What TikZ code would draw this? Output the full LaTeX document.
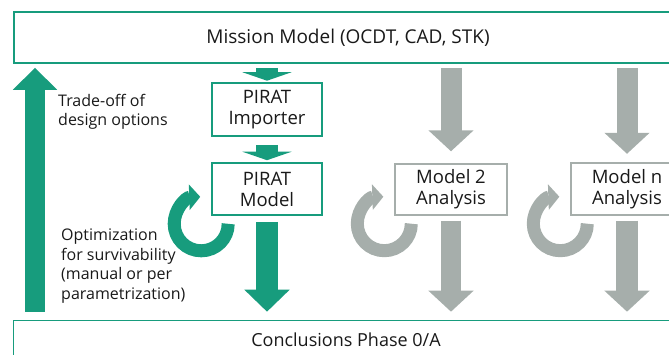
\documentclass[tikz,border=0pt]{standalone}
\usepackage{fontspec}
\setmainfont{Open Sans}
\usetikzlibrary{arrows.meta}
\definecolor{fhgreen}{RGB}{23,156,125}
\definecolor{fhgrey}{RGB}{166,174,171}
\definecolor{txt}{RGB}{25,25,25}
\begin{document}
\begin{tikzpicture}[
            x=1pt, y=1pt,
            every node/.style={align=center, inner sep=0pt, text=txt},
            box/.style={draw=fhgreen, line width=1.6pt, font=\fontsize{18.5pt}{21pt}\selectfont},
            greybox/.style={draw=fhgrey, line width=1.4pt, font=\fontsize{18.5pt}{21pt}\selectfont},
            note/.style={align=left, anchor=north west, font=\fontsize{16pt}{19.5pt}\selectfont},
            smallflow/.style={draw=fhgreen, line width=22pt, -{Triangle[width=49pt, length=8.5pt]}},
            greenflow/.style={draw=fhgreen, line width=22pt, -{Triangle[width=44pt, length=22pt]}},
            greyflow/.style={draw=fhgrey, line width=21pt, -{Triangle[width=44pt, length=21pt]}},
            greenloop/.style={draw=fhgreen, line width=13pt, -{Triangle[width=25pt, length=11pt]}},
            greyloop/.style={draw=fhgrey, line width=13pt, -{Triangle[width=25pt, length=11pt]}}
            ]
            \useasboundingbox (0,0) rectangle (669,-354);
            \clip (0,0) rectangle (669,-354);

            % boxes
            \node[box, minimum width=668pt, minimum height=51pt, font=\fontsize{19pt}{22pt}\selectfont] (mission) at (348,-37.5) {Mission Model (OCDT, CAD, STK)};
            \node[box, minimum width=665pt, minimum height=38pt, font=\fontsize{18pt}{21pt}\selectfont] (conclusions) at (346,-339.5) {Conclusions Phase 0/A};
            \node[box, minimum width=110pt, minimum height=53pt] (importer) at (267,-109.5) {PIRAT\\Importer};
            \node[box, minimum width=110pt, minimum height=52pt] (model) at (267,-189) {PIRAT\\Model};
            \node[greybox, minimum width=112pt, minimum height=51pt] (model2) at (451,-189.5) {Model 2\\Analysis};
            \node[greybox, minimum width=112pt, minimum height=52pt] (modeln) at (627,-189) {Model n\\Analysis};

            % side notes
            \node[note] (tradeoff) at (58,-94) {Trade-off of\\design options};
            \node[note] (optim) at (61,-229) {Optimization\\for survivability\\(manual or per\\parametrization)};

            % flows
            \draw[smallflow, shorten <=4pt, shorten >=1.5pt] (importer.north |- mission.south) -- (importer.north);
            \draw[smallflow, shorten <=8pt, shorten >=2pt] (importer.south) -- (model.north);
            \draw[greenflow, shorten <=6pt, shorten >=8pt] (model.south) -- (model.south |- conclusions.north);
            \draw[greyflow, shorten <=4pt, shorten >=12pt] (model2.north |- mission.south) -- (model2.north);
            \draw[greyflow, shorten <=4pt, shorten >=8.5pt] (modeln.north |- mission.south) -- (modeln.north);
            \draw[greyflow, line width=20pt, shorten <=5pt, shorten >=8pt] (model2.south) -- (model2.south |- conclusions.north);
            \draw[greyflow, line width=22pt, shorten <=5pt, shorten >=8pt] (modeln.south) -- (modeln.south |- conclusions.north);
            \draw[greenflow, line width=20pt, -{Triangle[width=43pt, length=22pt]}, shorten <=8pt, shorten >=4pt]
                ([xshift=22.3pt]conclusions.north west) -- ([xshift=21.8pt]mission.south west);

            % loops
            \draw[greenloop] ([shift={(17pt,-8pt)}]model.south west) arc[start angle=0, end angle=-268, radius=27pt];
            \draw[greyloop] ([shift={(17pt,-8pt)}]model2.south west) arc[start angle=0, end angle=-268, radius=27pt];
            \draw[greyloop] ([shift={(17pt,-8pt)}]modeln.south west) arc[start angle=0, end angle=-268, radius=27pt];
        \end{tikzpicture}
\end{document}
